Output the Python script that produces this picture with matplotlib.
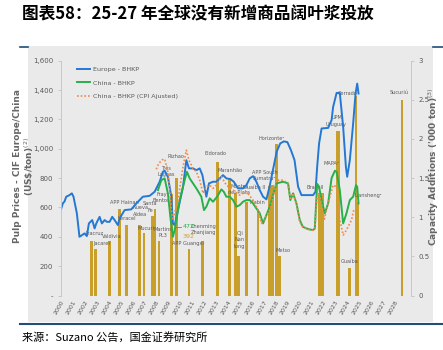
import matplotlib.pyplot as plt
from matplotlib.patches import Rectangle
from matplotlib.lines import Line2D
from matplotlib.ticker import FuncFormatter

plt.rcParams['font.family'] = ['DejaVu Sans', 'Noto Sans CJK SC']

# pulp prices (US$/ton)
eu_year = [2000.0, 2000.15, 2000.29, 2000.44, 2000.71, 2000.91, 2001.05, 2001.33, 2001.55, 2001.78,
           2001.97, 2002.17, 2002.34, 2002.62, 2002.82, 2002.96, 2003.24, 2003.43, 2003.66, 2003.85,
           2004.08, 2004.30, 2004.50, 2004.77, 2004.92, 2005.34, 2005.90, 2006.32, 2006.87, 2007.44,
           2007.86, 2008.28, 2008.55, 2008.70, 2008.97, 2009.26, 2009.39, 2009.54, 2009.82, 2010.24,
           2010.52, 2010.74, 2011.08, 2011.36, 2011.64, 2011.87, 2012.20, 2012.42, 2012.76, 2013.04,
           2013.32, 2013.60, 2013.88, 2014.22, 2014.50, 2014.86, 2015.28, 2015.56, 2015.84, 2016.12,
           2016.40, 2016.68, 2016.96, 2017.24, 2017.50, 2017.80, 2018.10, 2018.40, 2018.70, 2019.00,
           2019.30, 2019.60, 2019.90, 2020.18, 2021.16, 2021.36, 2021.50, 2021.66, 2021.87, 2022.42,
           2022.71, 2022.84, 2023.13, 2023.40, 2023.68, 2023.91, 2024.02, 2024.24, 2024.52, 2024.72,
           2024.86, 2024.97]
eu_price = [587, 627, 640, 673, 684, 696, 673, 560, 400, 412,
            423, 405, 491, 514, 457, 491, 536, 491, 514, 502,
            502, 536, 514, 480, 525, 582, 587, 627, 673, 679,
            707, 775, 843, 850, 809, 673, 491, 480, 582, 741,
            922, 866, 866, 854, 866, 820, 673, 764, 775, 775,
            798, 820, 798, 793, 775, 730, 730, 752, 798, 813,
            775, 718, 673, 655, 740, 860, 980, 1036, 1050, 1045,
            990, 922, 741, 684, 684, 707, 877, 1036, 1138, 1142,
            1195, 1285, 1380, 1380, 1149, 877, 809, 922, 1172, 1376,
            1444, 1376]

cn_year = [2008.14, 2008.42, 2008.70, 2008.97, 2009.20, 2009.39, 2009.54, 2009.96, 2010.38, 2010.57,
           2010.80, 2011.08, 2011.36, 2011.78, 2012.00, 2012.20, 2012.48, 2012.76, 2013.10, 2013.46,
           2013.66, 2013.88, 2014.16, 2014.44, 2014.72, 2015.00, 2015.28, 2015.56, 2015.84, 2016.12,
           2016.40, 2016.68, 2016.96, 2017.52, 2018.08, 2018.64, 2019.06, 2019.25, 2019.48, 2019.76,
           2020.04, 2020.30, 2020.60, 2020.88, 2021.16, 2021.30, 2021.50, 2021.66, 2021.87, 2022.14,
           2022.42, 2022.71, 2022.99, 2023.13, 2023.40, 2023.68, 2023.96, 2024.24, 2024.52, 2024.76,
           2024.86, 2024.97]
cn_price = [718, 786, 798, 696, 520, 400, 446, 650, 786, 843,
            798, 764, 730, 673, 582, 605, 662, 639, 673, 723,
            707, 673, 673, 650, 605, 616, 639, 650, 650, 627,
            593, 560, 491, 605, 764, 775, 764, 650, 696, 627,
            514, 468, 457, 450, 446, 457, 760, 741, 650, 560,
            627, 800, 850, 843, 718, 491, 560, 650, 673, 752,
            741, 627]

cpi_year = [2008.00, 2008.20, 2008.50, 2008.70, 2008.85, 2009.00, 2009.26, 2009.39, 2009.82, 2010.24,
            2010.52, 2010.74, 2011.08, 2011.36, 2011.64, 2011.92, 2012.20, 2012.48, 2012.76, 2013.04,
            2013.46, 2013.88, 2014.44, 2015.00, 2015.56, 2016.12, 2016.54, 2016.82, 2017.10, 2017.52,
            2017.94, 2018.08, 2018.64, 2019.06, 2019.25, 2019.48, 2019.76, 2020.04, 2020.30, 2020.60,
            2020.88, 2021.16, 2021.30, 2021.50, 2021.66, 2021.87, 2022.10, 2022.42, 2022.84, 2023.13,
            2023.35, 2023.68, 2023.96, 2024.38, 2024.60]
cpi_price = [860, 900, 925, 930, 880, 830, 582, 514, 650, 877,
             990, 922, 866, 843, 786, 696, 741, 752, 730, 752,
             809, 752, 718, 684, 707, 650, 582, 491, 525, 582,
             718, 786, 786, 764, 650, 696, 627, 500, 465, 455,
             448, 444, 455, 680, 696, 620, 520, 627, 752, 741,
             536, 412, 446, 514, 593]

# capacity additions
bar_year = [2002.54, 2002.90, 2004.08, 2004.92, 2005.48, 2006.60, 2006.96, 2007.69, 2007.90, 2008.24,
            2009.26, 2009.68, 2010.74, 2011.87, 2013.11, 2014.12, 2014.66, 2014.92, 2015.56, 2016.54,
            2017.52, 2017.77, 2018.07, 2018.36, 2021.68, 2021.93, 2023.15, 2023.30, 2024.19, 2024.75,
            2024.92, 2028.62]
bar_cap = [0.70, 0.60, 0.70, 1.10, 0.90, 0.90, 0.80, 1.01, 1.10, 0.70,
           1.30, 1.50, 0.60, 0.70, 1.70, 1.50, 1.31, 0.50, 1.20, 1.10,
           1.40, 1.41, 1.94, 0.50, 1.31, 1.31, 2.10, 2.10, 0.35, 2.55,
           1.20, 2.50]

mill_names = ['Aracruz', 'Jacarei', 'Valdivia', 'APP Hainan', 'Veracel', 'Nueva\nAldea', 'Mucuri',
              'Santa\nFe', 'Fray\nBentos', 'Martins\nPL3', 'Três\nLagoas', 'Rizhao', 'APP Guangxi',
              'Chenming\nZhanjiang', 'Eldorado', 'Maranhão', 'Montes\ndel Plata', 'Oji\nNan\ntong',
              'Guaíba II', 'Klabin', 'APP South\nSumatra²', 'Horizonte²', 'Metso', 'Bracell', 'MAPA²',
              'UPM\nUruguay', 'Cerrado', 'Guaíba', 'Liansheng²', 'Sucuriú']
name_year = [2002.82, 2003.38, 2004.22, 2005.34, 2005.56, 2006.65, 2007.16, 2007.50, 2008.42, 2008.55,
             2008.84, 2009.68, 2010.66, 2011.95, 2012.98, 2014.16, 2014.95, 2015.00, 2016.22, 2016.45,
             2017.10, 2017.66, 2018.64, 2021.30, 2022.71, 2023.13, 2024.02, 2024.24, 2025.78, 2028.39]
name_cap = [0.79, 0.66, 0.75, 1.19, 0.99, 1.08, 0.86, 1.13, 1.25, 0.80,
            1.58, 1.77, 0.67, 0.84, 1.82, 1.60, 1.35, 0.71, 1.38, 1.19,
            1.53, 2.00, 0.58, 1.38, 1.68, 2.23, 2.58, 0.44, 1.28, 2.59]

years = list(range(2000, 2029))

gray = '#595959'
fig = plt.figure(figsize=(4.43, 3.5), dpi=100)
fig.patches.append(Rectangle((0.0632, 0.08), 0.9142, 0.7886, transform=fig.transFigure,
                             facecolor='#EAEAEA', edgecolor='none', zorder=-5))
navy = '#1F4E79'
fig.add_artist(Line2D([0.045, 0.063], [0.866, 0.866], color=navy, lw=1.2))
fig.add_artist(Line2D([0.977, 1.0], [0.866, 0.866], color=navy, lw=1.2))
fig.add_artist(Line2D([0.045, 1.0], [0.074, 0.074], color=navy, lw=1.5))

fig.text(0.05, 0.958, '图表58：25-27 年全球没有新增商品阔叶浆投放', fontsize=12, fontweight='bold',
         style='italic', family=['Noto Sans CJK SC'], va='center', ha='left')
fig.text(0.05, 0.035, '来源：Suzano 公告，国金证券研究所', fontsize=8, family=['Noto Sans CJK SC'],
         va='center', ha='left')

ax = fig.add_axes([0.1377, 0.1557, 0.7894, 0.671])
ax2 = ax.twinx()
ax.set_zorder(ax2.get_zorder() + 1)
ax.patch.set_visible(False)
ax2.patch.set_visible(False)

ax2.bar(bar_year, bar_cap, width=0.22, color='#C89F2A', zorder=2)
for n, xx, yy in zip(mill_names, name_year, name_cap):
    ax2.text(xx, yy, n, fontsize=3.6, color=gray, ha='center', va='center', linespacing=1.3,
             family=['Liberation Sans Narrow', 'DejaVu Sans'], zorder=3)

ax.plot(eu_year, eu_price, color='#2478D4', lw=1.4, label='Europe - BHKP')
ax.plot(cn_year, cn_price, color='#27B04A', lw=1.4, label='China - BHKP')
ax.plot(cpi_year, cpi_price, color='#F08A4B', lw=1.2, ls=(0, (1, 1.2)),
        label='China - BHKP (CPI Ajusted)')
ax.plot([2009.6, 2010.1], [468, 468], color='#27B04A', lw=0.6)
ax.text(2010.2, 468, '472', fontsize=4.5, color='#27B04A', va='center')
ax.text(2010.2, 405, '392', fontsize=4.5, color='#C9A12E', va='center')

ax.set_xlim(2000, 2029.35)
ax.set_ylim(0, 1600)
ax2.set_ylim(0, 3)
ax.set_xticks(years)
ax.set_xticklabels([str(y) for y in years], rotation=60, ha='right', rotation_mode='anchor',
                   fontsize=4.5, color=gray)
ax.set_yticks(range(0, 1601, 200))
ax.yaxis.set_major_formatter(FuncFormatter(lambda v, p: '-' if v == 0 else f'{int(v):,}'))
ax.tick_params(axis='y', labelsize=5, colors=gray, length=2, width=0.5, color='#BBBBBB')
ax.tick_params(axis='x', length=0, pad=3)
ax2.set_yticks([0, 0.5, 1, 1.5, 2, 2.5, 3])
ax2.set_yticklabels(['0', '0.5', '1', '1.5', '2', '2.5', '3'])
ax2.tick_params(axis='y', labelsize=5, colors=gray, length=2, width=0.5, color='#BBBBBB')

for a in (ax, ax2):
    for s in ('top', 'bottom'):
        a.spines[s].set_visible(False)
    a.spines['left'].set_color('#C8C8C8')
    a.spines['right'].set_color('#C8C8C8')
    a.spines['left'].set_linewidth(0.6)
    a.spines['right'].set_linewidth(0.6)

ax.set_ylabel('Pulp Prices - CIF Europe/China\n(US\\$/ton)$^{(2)}$', fontsize=6.5, color='#666666',
              fontweight='bold', linespacing=1.0)
ax.yaxis.set_label_coords(-0.072, 0.55)
ax2.set_ylabel("Capacity Additions ('000 ton)$^{(3)}$", fontsize=6.5, color='#666666',
               fontweight='bold')
ax2.yaxis.set_label_coords(1.045, 0.55)

ax.legend(loc='upper left', bbox_to_anchor=(0.03, 1.0), frameon=False,
          handlelength=2.0, handletextpad=0.4, labelspacing=1.3, labelcolor=gray,
          prop={'family': ['Liberation Sans Narrow', 'DejaVu Sans'], 'size': 4.6})

fig.savefig('out.png', dpi=100)
